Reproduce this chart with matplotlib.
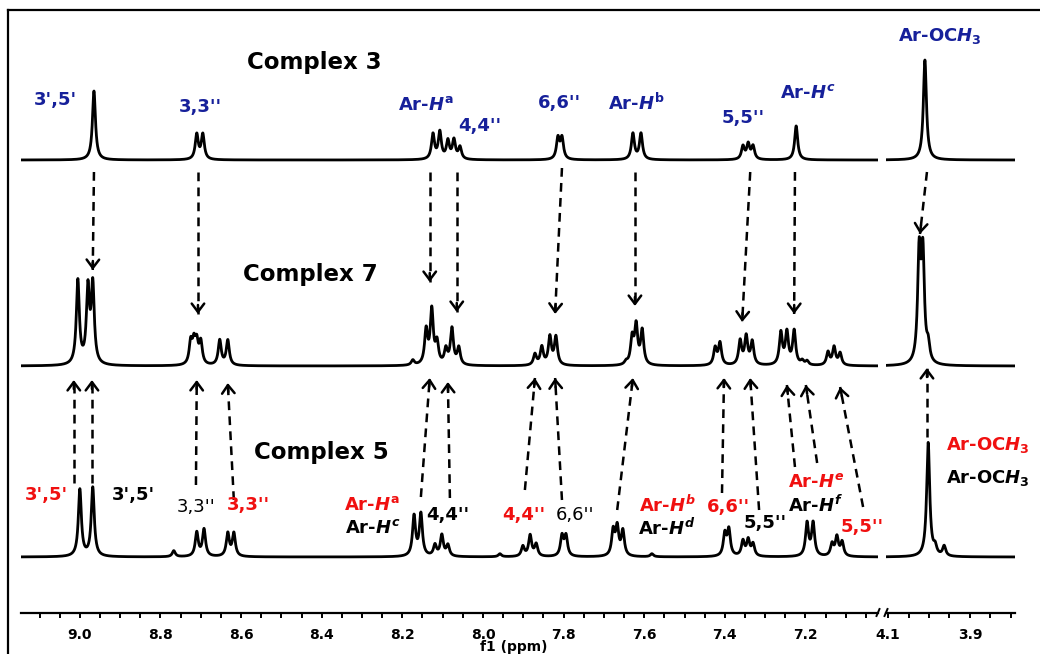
import numpy as np
import matplotlib
matplotlib.use("Agg")
import matplotlib.pyplot as plt
from matplotlib.lines import Line2D
from matplotlib.ticker import MultipleLocator, FixedLocator, FormatStrFormatter

plt.rcParams['font.family'] = ['DejaVu Sans']
plt.rcParams['font.weight'] = 'bold'
plt.rcParams['mathtext.fontset'] = 'custom'
plt.rcParams['mathtext.rm'] = 'DejaVu Sans:bold'
plt.rcParams['mathtext.it'] = 'DejaVu Sans:italic:bold'
plt.rcParams['mathtext.bf'] = 'DejaVu Sans:bold'

W, H = 1040, 654
BLUE = '#16209a'
RED = '#f01010'

# ---------------- peak lists (ppm, height) ----------------
# Complex 3
c3_ppm = [8.965, 8.710, 8.695, 8.124, 8.107, 8.087, 8.072, 8.057, 7.814, 7.804,
          7.628, 7.608, 7.355, 7.342, 7.330, 7.223]
c3_h = [69, 25, 25, 25, 27, 18, 19, 12, 21, 21, 26, 26, 13, 15, 13, 34]
c3_ppm_r = [4.010]
c3_h_r = [100]

# Complex 7
c7_ppm = [9.005, 8.980, 8.968,
          8.725, 8.717, 8.710, 8.700, 8.653, 8.633,
          8.174, 8.141, 8.127, 8.114, 8.092, 8.077, 8.060,
          7.871, 7.854, 7.834, 7.819,
          7.645, 7.630, 7.620, 7.605,
          7.424, 7.412, 7.362, 7.347, 7.332,
          7.261, 7.246, 7.228, 7.208, 7.196,
          7.144, 7.129, 7.114]
c7_h = [84, 74, 78,
        22, 20, 20, 22, 25, 25,
        5, 34, 54, 21, 15, 36, 17,
        11, 18, 28, 28,
        3, 26, 38, 34,
        17, 22, 24, 28, 23,
        32, 32, 34, 4, 4,
        13, 18, 12]
c7_ppm_r = [4.024, 4.015, 4.002]
c7_h_r = [107, 105, 16]

# Complex 5
c5_ppm = [9.000, 8.968, 8.767,
          8.710, 8.692, 8.633, 8.618,
          8.171, 8.154, 8.119, 8.102, 8.087, 7.958,
          7.901, 7.883, 7.868, 7.804, 7.794,
          7.677, 7.667, 7.653, 7.581,
          7.400, 7.390, 7.355, 7.342, 7.330,
          7.196, 7.181, 7.134, 7.122, 7.109]
c5_h = [67, 69, 6,
        24, 27, 23, 23,
        40, 42, 11, 21, 11, 3,
        10, 21, 12, 20, 20,
        25, 28, 25, 3,
        22, 26, 15, 16, 12,
        33, 33, 12, 19, 14]
c5_ppm_r = [4.002, 3.985, 3.963]
c5_h_r = [114, 8, 10]

# baselines of the three stacked traces (same units as the y axis)
base3, base7, base5 = 453, 247, 56


def trace(x, ppm, h, base, hw=0.0045):
    y = np.zeros_like(x)
    for p, a in zip(ppm, h):
        y += a / (1 + ((x - p) / hw) ** 2)
    return y + base


fig = plt.figure(figsize=(W / 100, H / 100), dpi=100)

axL = fig.add_axes([21 / W, 1 - 613 / H, (878 - 21) / W, 603 / H])
axR = fig.add_axes([886 / W, 1 - 613 / H, (1015 - 886) / W, 603 / H])
axL.set_xlim(9.146, 7.020)
axR.set_xlim(4.105, 3.790)

axL.xaxis.set_major_locator(MultipleLocator(0.2))
axR.xaxis.set_major_locator(FixedLocator([4.1, 3.9]))
for ax in (axL, axR):
    ax.set_ylim(0, 603)
    ax.patch.set_alpha(0)
    for s in ('left', 'right', 'top'):
        ax.spines[s].set_visible(False)
    ax.spines['bottom'].set_linewidth(1.6)
    ax.set_yticks([])
    ax.xaxis.set_minor_locator(MultipleLocator(0.05))
    ax.xaxis.set_major_formatter(FormatStrFormatter('%.1f'))
    ax.tick_params(axis='x', which='both', direction='out', length=3.5, width=1.4,
                   labelsize=10, pad=7)

xl = np.linspace(9.146, 7.020, 6000)
xr = np.linspace(4.105, 3.790, 1500)
lw = 2.0
for ppm, h, base in [(c3_ppm, c3_h, base3), (c7_ppm, c7_h, base7), (c5_ppm, c5_h, base5)]:
    axL.plot(xl, trace(xl, ppm, h, base), color='black', lw=lw)
for ppm, h, base in [(c3_ppm_r, c3_h_r, base3), (c7_ppm_r, c7_h_r, base7), (c5_ppm_r, c5_h_r, base5)]:
    axR.plot(xr, trace(xr, ppm, h, base), color='black', lw=lw)


def arrow(ax, x0, y0, x1, y1):
    ax.plot([x0, x1], [y0, y1], color='black', lw=1.8, linestyle=(0, (3.5, 2.5)),
            dash_capstyle='butt')
    t = ax.transData
    p0 = t.transform((x0, y0))
    p1 = t.transform((x1, y1))
    u = (p1 - p0) / np.hypot(*(p1 - p0))
    tail = t.inverted().transform(p1 - 9 * u)
    ax.annotate('', xy=(x1, y1), xytext=tail,
                arrowprops=dict(arrowstyle='->,head_length=0.6,head_width=0.45',
                                lw=1.8, color='black', shrinkA=0, shrinkB=0))


# arrows Complex 3 -> Complex 7 (start ppm, start y, tip ppm, tip y)
arrows_down = [(8.965, 441, 8.968, 343), (8.707, 441, 8.707, 299), (8.132, 441, 8.132, 331),
               (8.065, 441, 8.065, 301), (7.804, 445, 7.821, 299), (7.623, 441, 7.623, 307),
               (7.337, 441, 7.357, 291), (7.226, 441, 7.228, 299)]
arrows_down_r = [(4.005, 441, 4.022, 379)]
# arrows Complex 5 -> Complex 7
arrows_up = [(9.015, 130, 9.015, 233), (8.970, 130, 8.970, 233), (8.712, 128, 8.710, 233),
             (8.618, 113, 8.633, 230), (8.154, 116, 8.132, 235), (8.082, 115, 8.087, 231),
             (7.896, 123, 7.871, 235), (7.804, 113, 7.821, 235), (7.667, 103, 7.628, 235),
             (7.407, 120, 7.402, 235), (7.315, 103, 7.337, 235), (7.226, 146, 7.246, 228),
             (7.171, 150, 7.199, 228), (7.057, 106, 7.114, 226)]
arrows_up_r = [(4.005, 176, 4.005, 245)]

for a in arrows_down + arrows_up:
    arrow(axL, *a)
for a in arrows_down_r + arrows_up_r:
    arrow(axR, *a)


def hl(sup, it=True):
    s = r'\mathit{%s}' % sup if it else r'\mathrm{%s}' % sup
    return r'Ar-$\mathit{H}^{%s}$' % s


och3 = r'Ar-OC$\mathit{H}_{\mathrm{3}}$'

# (axis, ppm, y, text, colour, size, weight)
labels = [
    ('L', 8.419, 551, 'Complex 3', 'black', 16.5, 'bold'),
    ('L', 8.427, 338, 'Complex 7', 'black', 16.5, 'bold'),
    ('L', 8.400, 160, 'Complex 5', 'black', 16.5, 'bold'),
    # Complex 3
    ('L', 9.060, 513, "3',5'", BLUE, 13, 'bold'),
    ('L', 8.702, 506, "3,3''", BLUE, 13, 'bold'),
    ('L', 8.141, 508, hl('a', False), BLUE, 13, 'bold'),
    ('L', 8.007, 487, "4,4''", BLUE, 13, 'bold'),
    ('L', 7.811, 510, "6,6''", BLUE, 13, 'bold'),
    ('L', 7.618, 510, hl('b', False), BLUE, 13, 'bold'),
    ('L', 7.355, 495, "5,5''", BLUE, 13, 'bold'),
    ('L', 7.194, 520, hl('c'), BLUE, 13, 'bold'),
    ('R', 3.973, 577, och3, BLUE, 13, 'bold'),
    # Complex 5
    ('L', 9.084, 118, "3',5'", RED, 13, 'bold'),
    ('L', 8.868, 118, "3',5'", 'black', 13, 'bold'),
    ('L', 8.712, 106, "3,3''", 'black', 13, 'normal'),
    ('L', 8.583, 108, "3,3''", RED, 13, 'bold'),
    ('L', 8.275, 108, hl('a', False), RED, 13, 'bold'),
    ('L', 8.273, 85, hl('c'), 'black', 13, 'bold'),
    ('L', 8.087, 98, "4,4''", 'black', 13, 'bold'),
    ('L', 7.898, 98, "4,4''", RED, 13, 'bold'),
    ('L', 7.772, 98, "6,6''", 'black', 13, 'normal'),
    ('L', 7.543, 108, hl('b'), RED, 13, 'bold'),
    ('L', 7.543, 85, hl('d'), 'black', 13, 'bold'),
    ('L', 7.390, 106, "6,6''", RED, 13, 'bold'),
    ('L', 7.300, 90, "5,5''", 'black', 13, 'bold'),
    ('L', 7.174, 131, hl('e'), RED, 13, 'bold'),
    ('L', 7.174, 108, hl('f'), 'black', 13, 'bold'),
    ('L', 7.060, 86, "5,5''", RED, 13, 'bold'),
    ('R', 3.856, 168, och3, RED, 13, 'bold'),
    ('R', 3.856, 135, och3, 'black', 13, 'bold'),
]
for where, x, y, s, c, size, wt in labels:
    ax = axL if where == 'L' else axR
    ax.text(x, y, s, color=c, fontsize=size, fontweight=wt, ha='center', va='center')

# axis break marks
for xb in (876.5, 884.5):
    fig.add_artist(Line2D([xb / W, (xb + 3) / W], [1 - 616 / H, 1 - 609 / H],
                          color='black', lw=1.4))

fig.text(514 / W, 1 - 647 / H, 'f1 (ppm)', fontsize=10, fontweight='bold',
         ha='center', va='center')

# outer frame (left and top edges only visible)
fig.add_artist(Line2D([8 / W, 8 / W], [0, 1 - 10 / H], color='black', lw=1.6))
fig.add_artist(Line2D([8 / W, 1], [1 - 10 / H, 1 - 10 / H], color='black', lw=1.6))

fig.savefig('out.png', dpi=100)
